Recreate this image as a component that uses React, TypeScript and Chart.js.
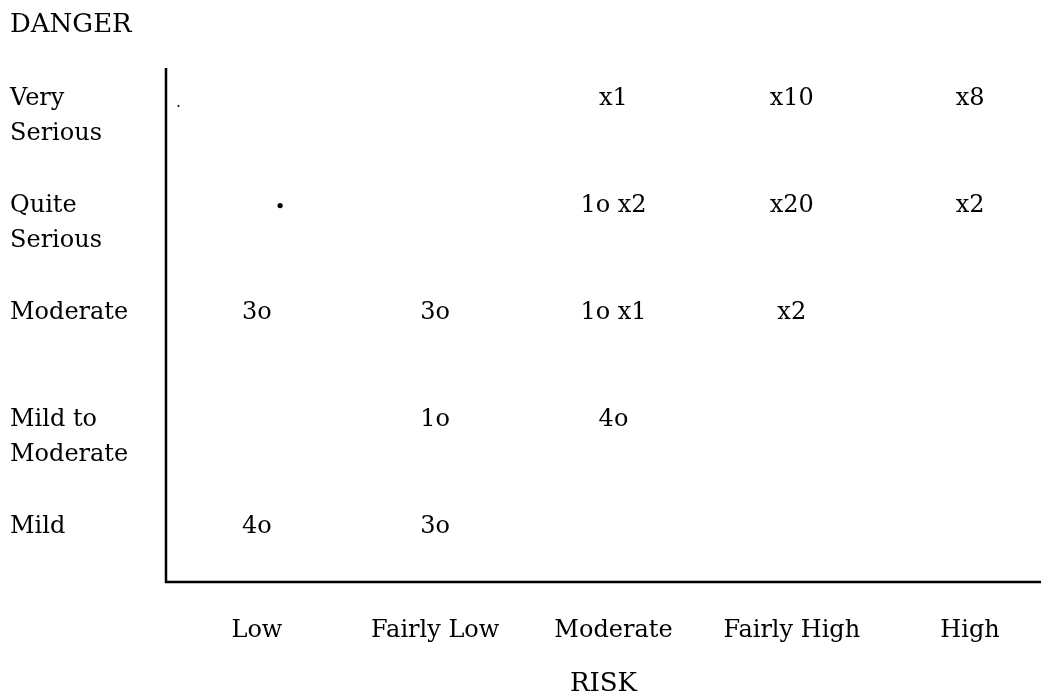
import React, { useEffect, useRef } from 'react';
import { Chart, registerables } from 'chart.js';

Chart.register(...registerables);

// Categories
const riskLevels = ['Low', 'Fairly Low', 'Moderate', 'Fairly High', 'High'];
const dangerLevels = ['Mild', 'Mild to Moderate', 'Moderate', 'Quite Serious', 'Very Serious'];
const dangerLabelLines = [['Mild'], ['Mild to', 'Moderate'], ['Moderate'], ['Quite', 'Serious'], ['Very', 'Serious']];
const xAxisTitle = 'RISK';
const yAxisTitle = 'DANGER';

// Counts of "o" per danger level, by risk column
const oMild = [4, 3, 0, 0, 0];
const oMildToModerate = [0, 1, 4, 0, 0];
const oModerate = [3, 3, 1, 0, 0];
const oQuiteSerious = [0, 0, 1, 0, 0];
const oVerySerious = [0, 0, 0, 0, 0];

// Counts of "x" per danger level, by risk column
const xMild = [0, 0, 0, 0, 0];
const xMildToModerate = [0, 0, 0, 0, 0];
const xModerate = [0, 0, 1, 2, 0];
const xQuiteSerious = [0, 0, 2, 20, 2];
const xVerySerious = [0, 0, 1, 10, 8];

// Stray marks visible on the original figure (risk value, danger value)
const strayMarks = [
  { x: 0.13, y: 3.06, r: 2.6 },
  { x: -0.44, y: 3.99, r: 1 },
];

const oCounts = [oMild, oMildToModerate, oModerate, oQuiteSerious, oVerySerious];
const xCounts = [xMild, xMildToModerate, xModerate, xQuiteSerious, xVerySerious];

const FONT = '24px "DejaVu Serif", "Liberation Serif", serif';
const TITLE_FONT = '26px "DejaVu Serif", "Liberation Serif", serif';

function cellLabel(o: number, x: number): string {
  const parts: string[] = [];
  if (o > 0) parts.push(`${o}o`);
  if (x > 0) parts.push(`x${x}`);
  return parts.join(' ');
}

const cellPoints: { x: number; y: number; label: string }[] = [];
dangerLevels.forEach((_, di) => {
  riskLevels.forEach((__, ri) => {
    const label = cellLabel(oCounts[di][ri], xCounts[di][ri]);
    if (label) cellPoints.push({ x: ri, y: di, label });
  });
});

const textPlugin = {
  id: 'gridText',
  afterDatasetsDraw(chart: any) {
    const ctx = chart.ctx as CanvasRenderingContext2D;
    const area = chart.chartArea;
    const xs = chart.scales.x;
    const ys = chart.scales.y;
    ctx.save();
    ctx.fillStyle = '#000';
    ctx.strokeStyle = '#000';

    // axis lines
    ctx.lineWidth = 2.5;
    ctx.beginPath();
    ctx.moveTo(area.left, area.top);
    ctx.lineTo(area.left, area.bottom);
    ctx.lineTo(area.right, area.bottom);
    ctx.stroke();

    // cell labels
    ctx.font = FONT;
    ctx.textAlign = 'center';
    ctx.textBaseline = 'alphabetic';
    const meta = chart.getDatasetMeta(0);
    meta.data.forEach((el: any, i: number) => {
      ctx.fillText(cellPoints[i].label, el.x, el.y);
    });

    // y category labels
    ctx.textAlign = 'left';
    dangerLabelLines.forEach((lines, i) => {
      const py = ys.getPixelForValue(i);
      lines.forEach((line, li) => ctx.fillText(line, 10, py + li * 35));
    });

    // x category labels
    ctx.textAlign = 'center';
    riskLevels.forEach((lab, i) => {
      ctx.fillText(lab, xs.getPixelForValue(i), area.bottom + 55);
    });

    // titles
    ctx.font = TITLE_FONT;
    ctx.fillText(xAxisTitle, (area.left + area.right) / 2, area.bottom + 109);
    ctx.textAlign = 'left';
    ctx.fillText(yAxisTitle, 10, area.top - 36);
    ctx.restore();
  },
};

export default function App() {
  const ref = useRef<HTMLCanvasElement>(null);
  useEffect(() => {
    if (!ref.current) return;
    const chart = new Chart(ref.current, {
      type: 'scatter',
      data: {
        datasets: [
          {
            label: 'cells',
            data: cellPoints.map((p) => ({ x: p.x, y: p.y })),
            pointRadius: 0,
            pointHoverRadius: 0,
          },
          {
            label: 'marks',
            data: strayMarks.map((p) => ({ x: p.x, y: p.y })),
            pointRadius: strayMarks.map((p) => p.r),
            pointBackgroundColor: '#000',
            pointBorderWidth: 0,
          },
        ],
      },
      options: {
        responsive: false,
        animation: false,
        events: [],
        layout: { autoPadding: false, padding: { left: 166, top: 68, right: 0, bottom: 115 } },
        plugins: { legend: { display: false }, tooltip: { enabled: false } },
        scales: {
          x: { type: 'linear', min: -0.51, max: 4.398, display: false },
          y: { type: 'linear', min: -0.458, max: 4.346, display: false },
        },
      },
      plugins: [textPlugin],
    });
    return () => chart.destroy();
  }, []);
  return (
    <div style={{ position: 'fixed', left: 0, top: 0, width: 1041, height: 697, background: '#fff' }}>
      <canvas ref={ref} width={1041} height={697} style={{ width: 1041, height: 697 }} />
    </div>
  );
}
